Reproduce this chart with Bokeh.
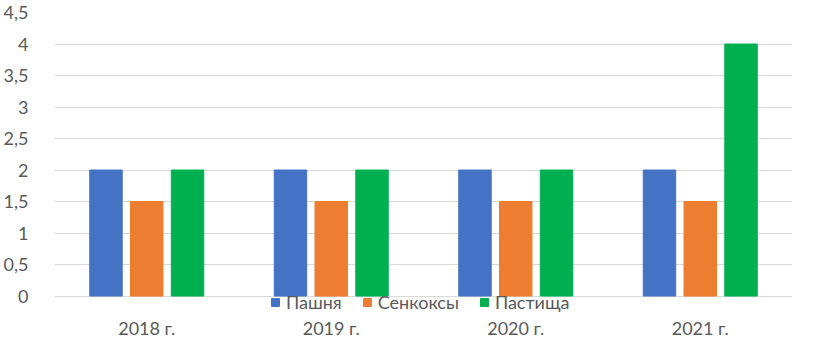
from bokeh.plotting import figure
from bokeh.models import ColumnDataSource, FactorRange, Range1d, Legend, LegendItem, FixedTicker, CustomJSTickFormatter
from bokeh.transform import dodge
from bokeh.embed import file_html
from bokeh.resources import INLINE

years = ["2018 г.", "2019 г.", "2020 г.", "2021 г."]
series_names = ["Пашня", "Сенкоксы", "Пастища"]
pashnya = [2, 2, 2, 2]
senokosy = [1.5, 1.5, 1.5, 1.5]
pastishcha = [2, 2, 2, 4]
y_ticks = [0, 0.5, 1, 1.5, 2, 2.5, 3, 3.5, 4, 4.5]
colors = ["#4472C4", "#ED7D31", "#00B050"]

src = ColumnDataSource(dict(year=years, a=pashnya, b=senokosy, c=pastishcha))

FONT = "Lato"
TXT = "#595959"

# frame: 4.5 at y=12, 0 at y~304, bottom extended to hold the legend
p = figure(width=822, height=341, x_range=FactorRange(*years), y_range=Range1d(-0.293, 4.5),
           output_backend="svg", toolbar_location=None,
           min_border_left=48, min_border_right=30, min_border_top=12, min_border_bottom=18)
p.outline_line_color = None
p.background_fill_color = "white"
p.border_fill_color = "white"

bw = 0.176
off = 0.221
r1 = p.vbar(x=dodge("year", -off, range=p.x_range), top="a", bottom=0, width=bw, source=src, color=colors[0])
r2 = p.vbar(x=dodge("year", 0, range=p.x_range), top="b", bottom=0, width=bw, source=src, color=colors[1])
r3 = p.vbar(x=dodge("year", off, range=p.x_range), top="c", bottom=0, width=bw, source=src, color=colors[2])

p.xgrid.grid_line_color = None
p.ygrid.grid_line_color = "#D9D9D9"
p.ygrid.grid_line_width = 1
p.yaxis.ticker = FixedTicker(ticks=y_ticks)
p.ygrid.ticker = FixedTicker(ticks=y_ticks)
p.yaxis.formatter = CustomJSTickFormatter(code="return tick.toString().replace('.', ',');")

for ax in (p.xaxis, p.yaxis):
    ax.axis_line_color = None
    ax.major_tick_line_color = None
    ax.minor_tick_line_color = None
    ax.major_label_text_font = FONT
    ax.major_label_text_font_size = "18px"
    ax.major_label_text_color = TXT
p.yaxis.major_label_standoff = 20
p.xaxis.major_label_standoff = -4

legend = Legend(items=[LegendItem(label=series_names[0], renderers=[r1]),
                       LegendItem(label=series_names[1], renderers=[r2]),
                       LegendItem(label=series_names[2], renderers=[r3])],
                orientation="horizontal", location=(216, 1))
legend.glyph_width = 10
legend.glyph_height = 10
legend.label_height = 18
legend.label_standoff = 6
legend.spacing = 20
legend.padding = 0
legend.margin = 0
legend.border_line_color = None
legend.background_fill_alpha = 0
legend.label_text_font = FONT
legend.label_text_font_size = "18px"
legend.label_text_color = TXT
p.add_layout(legend, "center")

open("out.html", "w").write(file_html(p, INLINE))
